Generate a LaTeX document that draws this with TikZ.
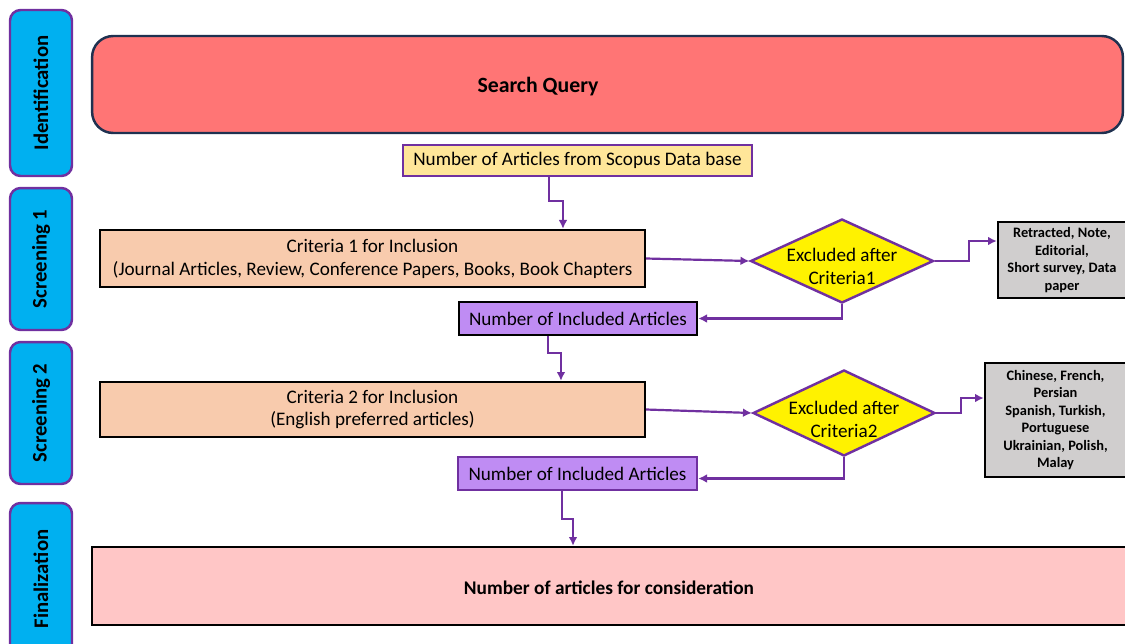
\documentclass[tikz,border=0pt]{standalone}
\usepackage{fontspec}
\setmainfont{Carlito}
\usetikzlibrary{shapes.geometric,arrows.meta}
\definecolor{stagecyan}{HTML}{00B0F0}
\definecolor{linepurple}{HTML}{7030A0}
\definecolor{queryred}{HTML}{FF7575}
\definecolor{querynavy}{HTML}{1F3150}
\definecolor{scopusyellow}{HTML}{FFE699}
\definecolor{criteriapeach}{HTML}{F8CBAD}
\definecolor{includedlilac}{HTML}{BF8CF3}
\definecolor{excludedgray}{HTML}{D0CECE}
\definecolor{finalpink}{HTML}{FFC6C6}
\tikzset{
  stage/.style={draw=linepurple, line width=1.4pt, fill=stagecyan, rounded corners=6pt,
                minimum width=1.24cm, inner sep=0pt},
  stagetext/.style={rotate=90, font=\bfseries\fontsize{11.8}{13}\selectfont},
  plainbox/.style={draw=black, line width=1.4pt, inner sep=0pt, align=center,
                   font=\fontsize{10.9}{13}\selectfont},
  graybox/.style={plainbox, fill=excludedgray, font=\bfseries\fontsize{8.2}{10}\selectfont},
  decision/.style={diamond, draw=linepurple, line width=1.4pt, fill=yellow, inner sep=0pt},
  decisiontext/.style={align=center, font=\fontsize{10.9}{13}\selectfont},
  flow/.style={draw=linepurple, line width=1.25pt, -{Latex[length=5pt,width=5pt]}}
}

\begin{document}
\begin{tikzpicture}[x=0.02cm, y=-0.02cm]

  \clip (0,0) rectangle (1125,643);

  % stages on the left
  \node[stage, minimum height=3.32cm] (ident) at (41,93) {};
  \node[stagetext] at (ident) {Identification};
  \node[stage, minimum height=2.84cm] (scrone) at (41,259) {};
  \node[stagetext] at (scrone) {Screening 1};
  \node[stage, minimum height=2.84cm] (scrtwo) at (41,413) {};
  \node[stagetext] at (scrtwo) {Screening 2};
  \node[stage, minimum height=3.04cm] (finalize) at (41,579) {};
  \node[stagetext] at (finalize) {Finalization};

  % identification
  \node[draw=querynavy, line width=1.4pt, fill=queryred, rounded corners=12pt,
        minimum width=20.62cm, minimum height=1.94cm] (query) at (607.5,84.5) {};
  \node[font=\bfseries\fontsize{12.4}{14}\selectfont] (querytext) at (538,87) {Search Query};
  \node[plainbox, draw=linepurple, fill=scopusyellow,
        minimum width=6.98cm, minimum height=0.62cm] (scopus) at (577.5,160.5)
        {Number of Articles from Scopus Data base};

  % screening 1
  \node[plainbox, fill=criteriapeach, minimum width=10.9cm, minimum height=1.14cm] (critone)
        at (372.5,258.5) {Criteria 1 for Inclusion\\(Journal Articles, Review, Conference Papers, Books, Book Chapters};
  \node[decision, minimum width=3.66cm, minimum height=1.68cm] (excone) at (842,261) {};
  \node[decisiontext] at ([yshift=-0.1cm]excone) {Excluded after\\Criteria1};
  \node[graybox, minimum width=2.56cm, minimum height=1.52cm] (grayone) at (1062,260)
        {Retracted, Note,\\Editorial,\\Short survey, Data\\paper};
  \node[plainbox, fill=includedlilac, minimum width=4.76cm, minimum height=0.66cm] (incone)
        at (578,318.5) {Number of Included Articles};

  % screening 2
  \node[plainbox, fill=criteriapeach, minimum width=10.9cm, minimum height=1.1cm] (crittwo)
        at (372.5,409.5) {Criteria 2 for Inclusion\\(English preferred articles)};
  \node[decision, minimum width=3.64cm, minimum height=1.72cm] (exctwo) at (844,413) {};
  \node[decisiontext] at ([yshift=-0.13cm]exctwo) {Excluded after\\Criteria2};
  \node[graybox, minimum width=2.82cm, minimum height=2.28cm] (graytwo) at (1055.5,420)
        {Chinese, French,\\Persian\\Spanish, Turkish,\\Portuguese\\Ukrainian, Polish,\\Malay};
  \node[plainbox, draw=linepurple, fill=includedlilac, minimum width=4.78cm, minimum height=0.66cm]
        (inctwo) at (577.5,473.5) {Number of Included Articles};

  % finalization
  \node[plainbox, fill=finalpink, minimum width=20.86cm, minimum height=1.56cm] (final)
        at (613.5,586) {};
  \node[font=\bfseries\fontsize{11}{13}\selectfont] (finaltext) at (609,588)
        {Number of articles for consideration};

  % connectors
  \draw[flow] ([xshift=-0.57cm]scopus.south) -- ++(0,24) -| ([xshift=3.81cm]critone.north);
  \draw[flow] (critone.east) -- (excone.west);
  \draw[flow] (excone.east) -- ++(34,0) |- ([yshift=0.38cm]grayone.west);
  \draw[flow] (excone.south) |- (incone.east);
  \draw[flow] ([xshift=-0.6cm]incone.south) -- ++(0,17) -| ([xshift=3.77cm]crittwo.north);
  \draw[flow] (crittwo.east) -- (exctwo.west);
  \draw[flow] (exctwo.east) -- ++(25,0) |- ([yshift=0.44cm]graytwo.west);
  \draw[flow] (exctwo.south) |- ([yshift=-0.1cm]inctwo.east);
  \draw[flow] ([xshift=-0.31cm]inctwo.south) -- ++(0,28) -| ([xshift=-0.81cm]final.north);

\end{tikzpicture}
\end{document}
